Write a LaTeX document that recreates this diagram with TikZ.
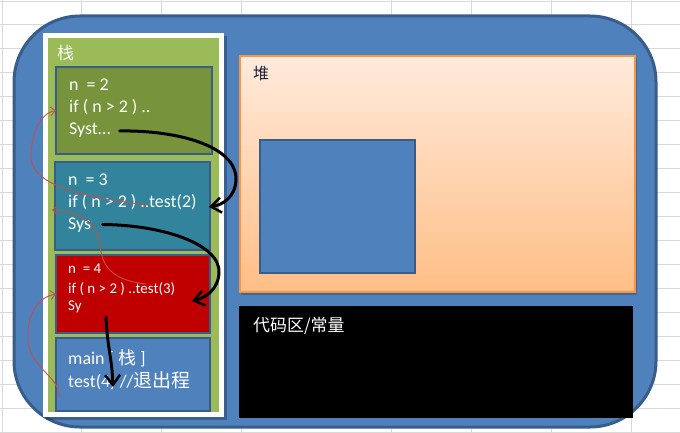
\documentclass[tikz,border=0pt]{standalone}
\usepackage{fontspec}
\setmainfont{Carlito}
\newfontfamily\cjk{Noto Sans CJK SC}
\usetikzlibrary{arrows.meta,calc}
\definecolor{memblue}{HTML}{4F81BD}
\definecolor{memborder}{HTML}{385D8A}
\definecolor{stackgreen}{HTML}{9BBB59}
\definecolor{oliveframe}{HTML}{77933C}
\definecolor{tealframe}{HTML}{31849B}
\definecolor{redframe}{HTML}{C00000}
\definecolor{heaptop}{HTML}{FFEADB}
\definecolor{heapbottom}{HTML}{FFBE86}
\definecolor{heapborder}{HTML}{F79646}
\definecolor{callred}{HTML}{C0504D}
\definecolor{gridgray}{HTML}{D9D9D9}
\definecolor{heaptext}{HTML}{1F1F3A}
\begin{document}
\begin{tikzpicture}[x=1bp,y=-1bp,
  gridline/.style={draw=gridgray,line width=0.8bp},
  rect/.style={anchor=north west,inner sep=0pt,outer sep=0pt},
  framebox/.style={rect,draw=memborder,line width=2.5bp},
  codetext/.style={anchor=base west,inner sep=0pt,text=white,font=\fontsize{18}{21}\selectfont},
  smalltext/.style={codetext,font=\fontsize{15}{18}\selectfont},
  flowarrow/.style={draw=black,line width=3bp,line cap=round,-{Straight Barb[length=10bp,width=15bp,line width=2.5bp]}},
  callarrow/.style={draw=callred,line width=0.9bp,-{Straight Barb[length=5bp,width=9bp,line width=0.9bp]}}
]
\useasboundingbox (0,0) rectangle (680,433);
\fill[white] (0,0) rectangle (680,433);
% spreadsheet grid
\foreach \gx in {2,81,161,241,391,471,551,631} \draw[gridline] (\gx,0) -- (\gx,433);
\foreach \gy in {24,48,...,432} \draw[gridline] (0,\gy) -- (680,\gy);
\draw[gridline] (0,1) -- (680,1);
% memory
\node[rect,fill=memblue,draw=memborder,line width=3bp,rounded corners=66bp,
  minimum width=642bp,minimum height=411bp] (mem) at (14,16) {};
% stack
\fill[black,opacity=0.25] (46,36) rectangle (227,420);
\node[rect,fill=white,minimum width=181bp,minimum height=384bp] (stackframe) at (43,33) {};
\node[rect,fill=stackgreen,minimum width=171bp,minimum height=374bp] (stack) at (48,38) {};
\node[codetext,text=white!92!stackgreen,font=\fontsize{17}{20}\selectfont] (stacklabel) at (57,60) {\cjk 栈};
\node[framebox,fill=oliveframe,minimum width=156bp,minimum height=87bp] (b1) at (56,67) {};
\node[framebox,fill=tealframe,minimum width=155bp,minimum height=88bp] (b2) at (55,162) {};
\node[framebox,fill=redframe,minimum width=154bp,minimum height=78bp] (b3) at (56,255) {};
\node[framebox,fill=memblue,minimum width=154bp,minimum height=73bp] (b4) at (56,338) {};
% frame texts
\node[codetext] (t11) at (69,91) {n\ \ = 2};
\node[codetext] (t12) at (69,113) {if ( n > 2 ) ..};
\node[codetext] (t13) at (69,135) {Syst…};
\node[codetext] (t21) at (68,185.5) {n\ \ = 3};
\node[codetext] (t22) at (68,208) {if ( n > 2 ) ..test(2)};
\node[codetext] (t23) at (68,229.5) {Sys};
\node[smalltext] (t31) at (68,274) {n\ \ = 4};
\node[smalltext] (t32) at (68,294) {if ( n > 2 ) ..test(3)};
\node[smalltext] (t33) at (68,311) {Sy};
\node[codetext] (t41) at (68,364) {main [ {\cjk 栈} ]};
\node[codetext] (t42) at (68,387) {test(4) //{\cjk\fontsize{19}{21}\selectfont 退出程}};
% heap
\fill[black,opacity=0.2] (241,58) rectangle (637,295);
\node[rect,draw=heapborder,line width=1.2bp,top color=heaptop,bottom color=heapbottom,
  minimum width=395bp,minimum height=236bp] (heap) at (240,56) {};
\node[codetext,text=heaptext,font=\fontsize{16}{19}\selectfont] (heaplabel) at (253,80) {\cjk 堆};
\node[framebox,fill=memblue,minimum width=155bp,minimum height=133bp] (obj) at (260,140) {};
% code area
\node[rect,fill=black,minimum width=394bp,minimum height=112bp] (code) at (239,306) {};
\node[codetext,font=\fontsize{17}{20}\selectfont] (codelabel) at (253,332) {\cjk 代码区/常量};
% return flow (black)
\draw[flowarrow] ($(t13.base east)+(9,-4)$) .. controls (175,130) and (237,145) .. (236,180)
  .. controls (235,198) and (222,205) .. ($(b2.east)+(-1,1)$);
\draw[flowarrow] ($(t23.base east)+(11,-5)$) .. controls (165,225) and (221,245) .. (219,273)
  .. controls (218,290) and (205,298) .. ($(b3.east)+(-18,7)$);
\draw[flowarrow] ($(b3.south west)+(50,-16)$) .. controls (107,345) and (112,358) .. ($(b4.south west)+(57,-24)$);
% calls (red)
\draw[callarrow] ($(b2.west)+(93,-1)$) .. controls (80,197) and (30,185) .. (31,155)
  .. controls (32,125) and (45,112) .. (b1.west);
\draw[callarrow] ($(b3.west)+(90,-10)$) .. controls (110,280) and (102,265) .. (100,245)
  .. controls (98,220) and (75,211) .. ($(b2.west)+(-3,4)$);
\draw[callarrow] ($(b4.south west)+(4,-14)$) .. controls (58,375) and (30,368) .. (28,340)
  .. controls (27,310) and (40,297) .. (b3.west);
\end{tikzpicture}
\end{document}
